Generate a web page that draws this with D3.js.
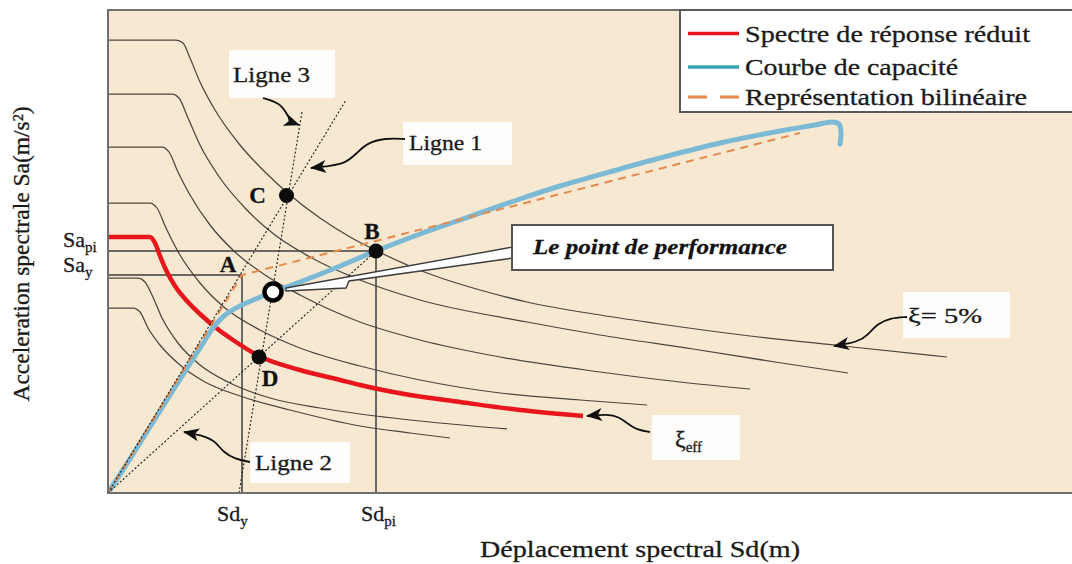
<!DOCTYPE html>
<html lang="fr">
<head>
<meta charset="utf-8">
<title>Point de performance</title>
<script src="https://cdn.jsdelivr.net/npm/d3@7/dist/d3.min.js"></script>
<style>
  html, body { margin: 0; padding: 0; background: #ffffff; }
  svg { display: block; font-family: "Liberation Serif", "Times New Roman", serif; }
  text { stroke: #1a1a1a; stroke-width: 0.3px; }
</style>
</head>
<body>
<svg id="chart" width="1072" height="564"></svg>
<script>
// ---- Spectres de demande, Sd en m, Sa en m/s² ----
const demand1 = [[0,9.06],[0.0272,9.06],[0.0300,9.00],[0.0328,8.70],[0.0368,8.22],[0.0428,7.66],[0.0528,6.96],[0.0628,6.42],[0.0728,5.96],[0.0848,5.50],[0.0968,5.12],[0.1076,4.84],[0.1276,4.40],[0.1488,4.06],[0.1676,3.82],[0.1968,3.56],[0.2208,3.38],[0.2568,3.14],[0.2940,2.94],[0.3356,2.72]]; // ξ = 5 %
const demand2 = [[0,7.98],[0.0256,7.98],[0.0284,7.90],[0.0320,7.50],[0.0368,6.96],[0.0448,6.30],[0.0548,5.70],[0.0668,5.16],[0.0808,4.72],[0.1008,4.26],[0.1248,3.86],[0.1676,3.42],[0.1968,3.16],[0.2340,2.88],[0.2668,2.62],[0.2960,2.40]];
const demand3 = [[0,6.92],[0.0216,6.92],[0.0244,6.82],[0.0280,6.42],[0.0328,5.96],[0.0408,5.36],[0.0508,4.82],[0.0628,4.36],[0.0768,3.96],[0.1008,3.42],[0.1248,3.06],[0.1568,2.72],[0.1968,2.42],[0.2288,2.22],[0.2568,2.08]];
const demand4 = [[0,5.80],[0.0168,5.80],[0.0196,5.70],[0.0232,5.30],[0.0288,4.76],[0.0368,4.20],[0.0468,3.70],[0.0608,3.26],[0.0768,2.90],[0.1008,2.54],[0.1248,2.26],[0.1568,2.00],[0.1888,1.86],[0.2156,1.76]];
const demand5 = [[0,4.30],[0.0120,4.30],[0.0148,4.22],[0.0176,3.96],[0.0216,3.50],[0.0280,3.00],[0.0368,2.56],[0.0488,2.20],[0.0648,1.90],[0.0848,1.70],[0.1008,1.58],[0.1248,1.44],[0.1596,1.28]];
const demand6 = [[0,3.70],[0.0100,3.70],[0.0128,3.62],[0.0160,3.30],[0.0208,2.96],[0.0288,2.56],[0.0388,2.22],[0.0528,1.94],[0.0728,1.66],[0.1008,1.34],[0.1208,1.20],[0.1368,1.10]];

// Spectre de réponse réduit (ξ eff)
const reducedSpectrum = [[0,5.12],[0.0168,5.12],[0.0188,5.00],[0.0208,4.74],[0.0232,4.46],[0.0268,4.14],[0.0316,3.84],[0.0368,3.58],[0.0428,3.32],[0.0500,3.06],[0.0604,2.74],[0.0768,2.46],[0.0928,2.26],[0.1008,2.16],[0.1208,1.96],[0.1408,1.82],[0.1648,1.66],[0.1900,1.54]];

// Courbe de capacité
const capacityCurve = [[0,0],[0.0128,1.00],[0.0248,1.96],[0.0368,2.90],[0.0420,3.30],[0.0468,3.56],[0.0528,3.74],[0.0600,3.90],[0.0660,4.02],[0.0768,4.22],[0.0900,4.48],[0.1072,4.84],[0.1248,5.18],[0.1408,5.46],[0.1648,5.88],[0.1808,6.14],[0.2048,6.48],[0.2208,6.70],[0.2448,7.00],[0.2688,7.24],[0.2828,7.36],[0.2896,7.42],[0.2924,7.38],[0.2932,7.22],[0.2928,6.98]];

// Représentation bilinéaire
const bilinear = [[0,0],[0.0536,4.36],[0.2768,7.20]];

// Points caractéristiques
const pointA = [0.0536, 4.36];   // (Sd_y, Sa_y)
const pointB = [0.1072, 4.84];   // (Sd_pi, Sa_pi)
const pointC = [0.0714, 5.95];
const pointD = [0.0604, 2.72];
const perfPoint = [0.0660, 4.02];

// Lignes de construction
const ligne1 = [[0,0],[0.0952,7.86]];
const ligne2 = [[0,0],[0.1072,4.84]];
const ligne3 = [[0.0524,0],[0.0776,7.62]];

// Textes
const legendLabels = ["Spectre de réponse réduit", "Courbe de capacité", "Représentation bilinéaire"];
const xTitle = "Déplacement spectral Sd(m)";
const yTitle = "Acceleration spectrale Sa(m/s²)";
const perfLabel = "Le point de performance";

// Étiquettes annotées : position du texte (Sd, Sa) et tracé de la flèche
const notes = [
  { text: "Ligne 3", at: [0.0500, 8.22], len: 77, box: [-4, -32, 106, 48],
    arrow: [[0.0620,7.90],[0.0688,7.80],[0.0716,7.58],[0.0732,7.42],[0.0764,7.36]] },
  { text: "Ligne 1", at: [0.1204, 6.86], len: 73, box: [-6, -28, 109, 43],
    arrow: [[0.1188,7.08],[0.1108,7.10],[0.1036,7.00],[0.0996,6.80],[0.0952,6.60],[0.0888,6.54],[0.0812,6.50]] },
  { text: "Ligne 2", at: [0.0588, 0.46], len: 77, box: [-5, -28, 100, 41],
    arrow: [[0.0568,0.62],[0.0508,0.68],[0.0460,0.82],[0.0432,1.02],[0.0388,1.14],[0.0304,1.22]] },
  { text: "ξ= 5%", at: [0.3200, 3.40], len: 74, box: [-5, -31, 107, 46],
    arrow: [[0.3196,3.52],[0.3128,3.50],[0.3076,3.38],[0.3040,3.16],[0.3000,3.02],[0.2904,2.94]] },
  { text: "ξ", sub: "eff", at: [0.2268, 0.92], box: [-23, -32, 88, 45],
    arrow: [[0.2168,1.22],[0.2116,1.26],[0.2076,1.40],[0.2044,1.52],[0.2000,1.58],[0.1916,1.54]] }
];
const perfBoxAt = [0.1700, 4.78];

// ---- Mise en page ----
const frame = { left: 108, top: 10, right: 1071, bottom: 493 };
const x = d3.scaleLinear().domain([0, 0.3852]).range([frame.left, frame.right]);
const y = d3.scaleLinear().domain([0, 9.66]).range([frame.bottom, frame.top]);

const svg = d3.select("#chart");
const serif = '"Liberation Serif", "Times New Roman", serif';

const defs = svg.append("defs");
defs.append("clipPath").attr("id", "plotClip")
  .append("rect").attr("x", frame.left).attr("y", frame.top)
  .attr("width", 1080 - frame.left).attr("height", frame.bottom - frame.top);
defs.append("marker").attr("id", "head")
  .attr("markerUnits", "userSpaceOnUse")
  .attr("viewBox", "-16 -8 18 16").attr("refX", 0).attr("refY", 0)
  .attr("markerWidth", 18).attr("markerHeight", 16).attr("orient", "auto")
  .append("path").attr("d", "M1,0 L-15,-6.5 L-11,0 L-15,6.5 Z").attr("fill", "#111");

// Fond du graphique (le cadre se poursuit au-delà du bord droit)
svg.append("rect")
  .attr("x", frame.left).attr("y", frame.top)
  .attr("width", 1080 - frame.left).attr("height", frame.bottom - frame.top)
  .attr("fill", "#f7e9d1");

const plot = svg.append("g").attr("clip-path", "url(#plotClip)");

const lineMono = d3.line().x(d => x(d[0])).y(d => y(d[1])).curve(d3.curveMonotoneX);
const lineStraight = d3.line().x(d => x(d[0])).y(d => y(d[1]));
const lineSmooth = d3.line().x(d => x(d[0])).y(d => y(d[1])).curve(d3.curveCatmullRom.alpha(0.5));

// Famille de spectres de demande
plot.selectAll("path.demand")
  .data([demand1, demand2, demand3, demand4, demand5, demand6])
  .join("path").attr("class", "demand")
  .attr("d", lineMono)
  .attr("fill", "none").attr("stroke", "#4a463f").attr("stroke-width", 1.25);

// Repères Sa_pi / Sd_pi et Sa_y / Sd_y
const guides = [
  [[0, pointB[1]], pointB, [pointB[0], 0]],
  [[0, pointA[1]], pointA, [pointA[0], 0]]
];
plot.selectAll("path.guide").data(guides).join("path").attr("class", "guide")
  .attr("d", lineStraight)
  .attr("fill", "none").attr("stroke", "#3e3e3e").attr("stroke-width", 1.5);

// Spectre réduit
plot.append("path").datum(reducedSpectrum)
  .attr("d", lineMono)
  .attr("fill", "none").attr("stroke", "#e8161c").attr("stroke-width", 4.5);

// Courbe de capacité
plot.append("path").datum(capacityCurve)
  .attr("d", lineSmooth)
  .attr("fill", "none").attr("stroke", "#7bb9d5").attr("stroke-width", 5)
  .attr("stroke-linecap", "round").attr("stroke-linejoin", "round");

// Bilinéaire
plot.append("path").datum(bilinear)
  .attr("d", lineStraight)
  .attr("fill", "none").attr("stroke", "#e38a4c").attr("stroke-width", 2)
  .attr("stroke-dasharray", "8,6");

// Lignes 1, 2, 3
plot.selectAll("path.construct").data([ligne1, ligne2, ligne3])
  .join("path").attr("class", "construct")
  .attr("d", lineStraight)
  .attr("fill", "none").attr("stroke", "#1e1e1e").attr("stroke-width", 1.1)
  .attr("stroke-dasharray", "2,2");

// Bulle du point de performance
const px0 = x(perfPoint[0]), py0 = y(perfPoint[1]);
const bx = x(perfBoxAt[0]) - 21, by = y(perfBoxAt[1]) - 29;
svg.append("polygon")
  .attr("points", [
    [px0 + 13, py0 - 4], [bx + 1, by + 22], [bx + 1, by + 33],
    [px0 + 76, py0 - 11], [px0 + 73, py0 - 4], [px0 + 13, py0 - 1]
  ].map(p => p.join(",")).join(" "))
  .attr("fill", "#ffffff").attr("stroke", "#3c3c3c").attr("stroke-width", 1.4)
  .attr("stroke-linejoin", "miter");
svg.append("rect").attr("x", bx).attr("y", by).attr("width", 321).attr("height", 45)
  .attr("fill", "#ffffff").attr("stroke", "#555555").attr("stroke-width", 2);
svg.append("text").attr("x", x(perfBoxAt[0])).attr("y", y(perfBoxAt[1]))
  .attr("font-family", serif).attr("font-size", 22)
  .attr("font-weight", "bold").attr("font-style", "italic").attr("fill", "#111")
  .attr("textLength", 254).attr("lengthAdjust", "spacingAndGlyphs")
  .text(perfLabel);

// Points B, C, D
svg.selectAll("circle.pt").data([pointB, pointC, pointD]).join("circle").attr("class", "pt")
  .attr("cx", d => x(d[0])).attr("cy", d => y(d[1])).attr("r", 7.5).attr("fill", "#0b0b0b");
// Point de performance
svg.append("circle").attr("cx", px0).attr("cy", py0).attr("r", 8.5)
  .attr("fill", "#ffffff").attr("stroke", "#000").attr("stroke-width", 4.5);

// Lettres des points
const letters = [
  { t: "A", p: pointA, dx: -14, dy: -3 },
  { t: "B", p: pointB, dx: -4, dy: -12 },
  { t: "C", p: pointC, dx: -29, dy: 7.5 },
  { t: "D", p: pointD, dx: 11, dy: 29 }
];
svg.selectAll("text.letter").data(letters).join("text").attr("class", "letter")
  .attr("x", d => x(d.p[0]) + d.dx).attr("y", d => y(d.p[1]) + d.dy)
  .attr("text-anchor", "middle").attr("font-family", serif)
  .attr("font-size", 23).attr("font-weight", "bold").attr("fill", "#111")
  .text(d => d.t);

// Étiquettes avec flèches
const noteG = svg.append("g");
notes.forEach(n => {
  const tx = x(n.at[0]), ty = y(n.at[1]);
  noteG.append("rect").attr("x", tx + n.box[0]).attr("y", ty + n.box[1])
    .attr("width", n.box[2]).attr("height", n.box[3]).attr("fill", "#fefdfb");
  const t = noteG.append("text").attr("x", tx).attr("y", ty)
    .attr("font-family", serif).attr("font-size", 22).attr("fill", "#1a1a1a");
  if (n.sub) {
    t.append("tspan").attr("font-size", 24).text(n.text);
    t.append("tspan").attr("dy", 5).attr("font-size", 15).text(n.sub);
  } else {
    t.attr("textLength", n.len).attr("lengthAdjust", "spacingAndGlyphs").text(n.text);
  }
  noteG.append("path").datum(n.arrow)
    .attr("d", d3.line().x(d => x(d[0])).y(d => y(d[1])).curve(d3.curveBasis))
    .attr("fill", "none").attr("stroke", "#111").attr("stroke-width", 1.8)
    .attr("marker-end", "url(#head)");
});

// Étiquettes Sa_pi, Sa_y, Sd_y, Sd_pi
function subLabel(xp, yp, main, sub) {
  const t = svg.append("text").attr("x", xp).attr("y", yp)
    .attr("font-family", serif).attr("font-size", 22).attr("fill", "#1a1a1a");
  t.append("tspan").text(main);
  t.append("tspan").attr("dy", 5).attr("font-size", 15).text(sub);
}
subLabel(63, y(pointB[1]) - 4, "Sa", "pi");
subLabel(63, y(pointA[1]) - 3, "Sa", "y");
subLabel(x(pointA[0]) - 25, 521, "Sd", "y");
subLabel(x(pointB[0]) - 15, 521, "Sd", "pi");

// Titres des axes
svg.append("text").attr("x", 640).attr("y", 557).attr("text-anchor", "middle")
  .attr("font-family", serif).attr("font-size", 23).attr("fill", "#1a1a1a")
  .attr("textLength", 320).attr("lengthAdjust", "spacingAndGlyphs")
  .text(xTitle);
svg.append("text").attr("transform", "translate(29,254) rotate(-90)").attr("text-anchor", "middle")
  .attr("font-family", serif).attr("font-size", 23).attr("fill", "#1a1a1a")
  .attr("textLength", 295).attr("lengthAdjust", "spacingAndGlyphs")
  .text(yTitle);

// Cadre (bords gauche, haut et bas ; il se prolonge à droite)
svg.append("path")
  .attr("d", `M1080,${frame.top}H${frame.left}V${frame.bottom}H1080`)
  .attr("fill", "none").attr("stroke", "#6f6f6f").attr("stroke-width", 2);

// Légende
const legend = { x: 680, y: 10, w: 400, h: 102 };
defs.append("clipPath").attr("id", "legendClip")
  .append("rect").attr("x", legend.x).attr("y", legend.y).attr("width", legend.w).attr("height", legend.h - 2);
svg.append("rect").attr("x", legend.x).attr("y", legend.y).attr("width", legend.w).attr("height", legend.h)
  .attr("fill", "#ffffff").attr("stroke", "#5a5a5a").attr("stroke-width", 2);
const legendStyles = [
  { color: "#e8161c", dash: null, width: 3.5, len: 285 },
  { color: "#3aa4b6", dash: null, width: 3.5, len: 213 },
  { color: "#e38a4c", dash: "19,13", width: 3, len: 282 }
];
const legendBaselines = [41.5, 75, 105];
const lg = svg.append("g").attr("clip-path", "url(#legendClip)");
legendLabels.forEach((label, i) => {
  const s = legendStyles[i], b = legendBaselines[i];
  lg.append("line").attr("x1", 688).attr("x2", 739).attr("y1", b - 8).attr("y2", b - 8)
    .attr("stroke", s.color).attr("stroke-width", s.width)
    .attr("stroke-dasharray", s.dash);
  lg.append("text").attr("x", 745).attr("y", b)
    .attr("font-family", serif).attr("font-size", 24).attr("fill", "#1a1a1a")
    .attr("textLength", s.len).attr("lengthAdjust", "spacingAndGlyphs")
    .text(label);
});
</script>
</body>
</html>
